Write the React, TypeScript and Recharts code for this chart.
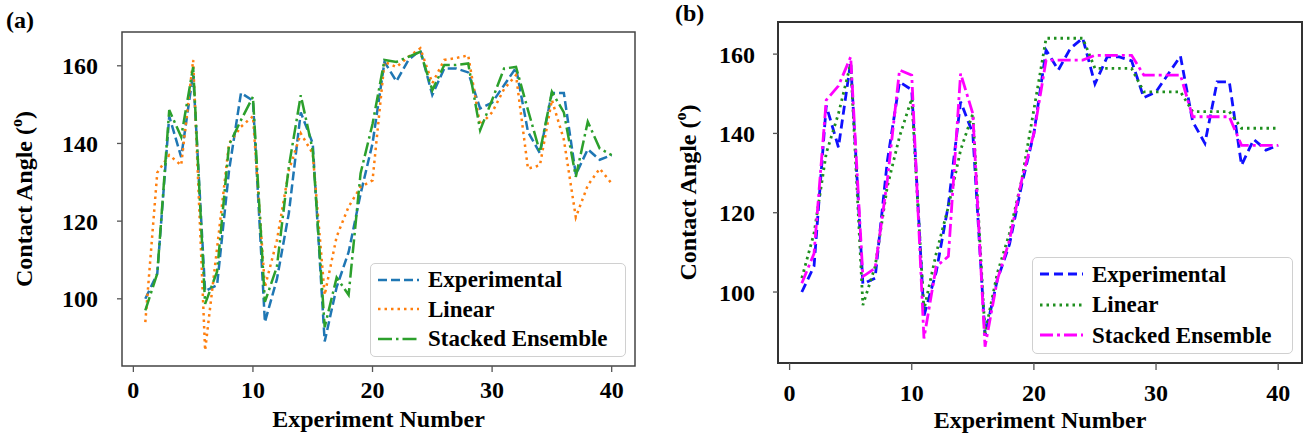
import React from 'react'
import { LineChart, Line, XAxis, YAxis, Legend, ReferenceArea } from 'recharts'

// experiment index (x axis)
const experimentNo = [
  1, 2, 3, 4, 5, 6, 7, 8, 9, 10, 11, 12, 13, 14, 15, 16, 17, 18, 19, 20,
  21, 22, 23, 24, 25, 26, 27, 28, 29, 30, 31, 32, 33, 34, 35, 36, 37, 38, 39, 40,
]

// measured contact angles, shared by both panels
const experimental = [
  100, 106.5, 147, 136.5, 158, 102, 103.5, 133, 153, 151,
  94, 105, 122, 148, 140, 89, 103, 112, 127, 140,
  161, 156, 161.5, 164, 152.5, 159.3, 159.3, 158.3, 149, 150.5,
  155, 159.5, 143, 137.5, 153, 153, 132, 138.5, 135.8, 137,
]

// panel (a) predictions
const linearA = [
  94, 132.5, 137, 134.4, 161.5, 86.7, 113, 140, 144.3, 147,
  103, 115, 133, 142.6, 137.4, 101, 116, 123.7, 128.8, 130.5,
  161, 159.7, 162.3, 164.5, 155.5, 161.5, 162, 162.7, 144.7, 148,
  154, 157.6, 133.5, 134.4, 151.2, 141, 121, 129.2, 133.5, 129.7,
]
const stackedA = [
  97, 106.5, 148.6, 141.7, 159.7, 98.7, 107, 139.6, 146, 152,
  99.2, 108.2, 134, 152.4, 138.3, 92.7, 105.5, 101, 132.3, 145,
  161.5, 161, 162.3, 163.6, 153.7, 160.2, 160.2, 160.6, 143.4, 151.2,
  159.3, 159.7, 148.6, 137.8, 153.3, 148, 131.4, 145.6, 138.7, 137,
]

// panel (b) predictions
const linearB = [
  103.5, 114.8, 135, 145, 157.6, 96.7, 106.4, 126.6, 139.2, 148.8,
  95.5, 109.7, 121.5, 135.8, 145, 89.6, 104.7, 114.8, 128.2, 146,
  164, 164, 164, 164, 156.4, 156.4, 156.4, 156.4, 150.5, 150.5,
  150.5, 150.5, 145.5, 145.5, 145.5, 145.5, 141.3, 141.3, 141.3, 141.3,
]
const stackedB = [
  102.2, 109.7, 148.4, 152, 159.3, 103.9, 106, 128.2, 156, 154.7,
  88.3, 106.4, 109, 155.1, 145, 86.2, 103, 113, 128.2, 140,
  158.5, 158.5, 158.5, 158.5, 159.7, 159.7, 159.7, 159.7, 154.7, 154.7,
  154.7, 154.7, 144.2, 144.2, 144.2, 144.2, 137, 137, 137, 137,
]

const xTicks = [0, 10, 20, 30, 40]
const yTicks = [100, 120, 140, 160]

const FONT = '"Liberation Serif", "Times New Roman", serif'

interface SeriesStyle {
  key: string
  name: string
  color: string
  dash: string
}

const seriesA: SeriesStyle[] = [
  { key: 'exp', name: 'Experimental', color: '#1f77b4', dash: '9 4' },
  { key: 'lin', name: 'Linear', color: '#ff7f0e', dash: '2.5 4' },
  { key: 'stk', name: 'Stacked Ensemble', color: '#2ca02c', dash: '14 4 2.5 4' },
]

const seriesB: SeriesStyle[] = [
  { key: 'exp', name: 'Experimental', color: '#1010ff', dash: '9 5' },
  { key: 'lin', name: 'Linear', color: '#1f8f1f', dash: '2.5 4' },
  { key: 'stk', name: 'Stacked Ensemble', color: '#ff00ff', dash: '13 4 3 4' },
]

const rowsA = experimentNo.map((x, i) => ({ x, exp: experimental[i], lin: linearA[i], stk: stackedA[i] }))
const rowsB = experimentNo.map((x, i) => ({ x, exp: experimental[i], lin: linearB[i], stk: stackedB[i] }))

function YLabel(props: any) {
  const vb = props.viewBox ?? { y: 0, height: 0 }
  const cy = vb.y + vb.height / 2
  const cx = props.cx
  return (
    <text
      x={cx}
      y={cy}
      transform={`rotate(-90 ${cx} ${cy})`}
      textAnchor="middle"
      dominantBaseline="central"
      fill="#000"
      style={{ fontFamily: FONT, fontWeight: 'bold', fontSize: 24 }}
    >
      Contact Angle (<tspan dy={-8} fontSize={16}>o</tspan>
      <tspan dy={8}>)</tspan>
    </text>
  )
}

function XLabel(props: any) {
  const vb = props.viewBox ?? { x: 0, width: 0 }
  return (
    <text
      x={vb.x + vb.width / 2}
      y={props.baseline}
      textAnchor="middle"
      fill="#000"
      style={{ fontFamily: FONT, fontWeight: 'bold', fontSize: 24 }}
    >
      Experiment Number
    </text>
  )
}

function LegendBox(props: any) {
  const { payload, series, box, rowH, sampleW, lineW } = props
  const items = (payload ?? []) as any[]
  return (
    <div
      style={{
        width: box.w,
        height: box.h,
        boxSizing: 'border-box',
        border: '1.5px solid #d0d0d0',
        borderRadius: 5,
        background: 'rgba(255,255,255,0.85)',
        padding: '1px 0 0 7px',
      }}
    >
      {items.map((it) => {
        const s = series.find((d: SeriesStyle) => d.key === it.dataKey) ?? series[0]
        return (
          <div key={s.key} style={{ display: 'flex', alignItems: 'center', height: rowH }}>
            <svg width={sampleW} height={10} style={{ display: 'block' }}>
              <line x1={0} y1={5} x2={sampleW} y2={5} stroke={s.color} strokeWidth={lineW} strokeDasharray={s.dash} />
            </svg>
            <span
              style={{
                marginLeft: 9,
                fontFamily: FONT,
                fontWeight: 'bold',
                fontSize: 23,
                lineHeight: 1,
                color: '#000',
                whiteSpace: 'nowrap',
              }}
            >
              {it.value}
            </span>
          </div>
        )
      })}
    </div>
  )
}

interface PanelProps {
  left: number
  width: number
  margin: { top: number; right: number; bottom: number; left: number }
  rows: any[]
  series: SeriesStyle[]
  yDomain: [number, number]
  frame: string
  frameW: number
  lineW: number
  xTickSize: number
  xTickMargin: number
  yTickSize: number
  yTickMargin: number
  legend: { x: number; y: number; w: number; h: number }
  rowH: number
  sampleW: number
  yLabelX: number
  xLabelY: number
  tag: string
  tagX: number
  tagY: number
}

function Panel(p: PanelProps) {
  const tickStyle = { fontFamily: FONT, fontWeight: 'bold' as const, fontSize: 24, fill: '#000' }
  const xDomain: [number, number] = [-0.95, 41.95]
  return (
    <div style={{ position: 'absolute', left: p.left, top: 0, width: p.width, height: 436 }}>
      <div
        style={{
          position: 'absolute',
          left: p.tagX,
          top: p.tagY,
          fontFamily: FONT,
          fontWeight: 'bold',
          fontSize: 24,
          lineHeight: '24px',
          color: '#000',
          zIndex: 2,
        }}
      >
        {p.tag}
      </div>
      <LineChart width={p.width} height={436} data={p.rows} margin={p.margin}>
        <XAxis
          dataKey="x"
          type="number"
          domain={xDomain}
          allowDataOverflow
          ticks={xTicks}
          height={60}
          axisLine={false}
          tickSize={p.xTickSize}
          tickMargin={p.xTickMargin}
          tickLine={{ stroke: '#555', strokeWidth: 1.3 }}
          tick={tickStyle}
          label={<XLabel baseline={p.xLabelY} />}
        />
        <YAxis
          type="number"
          domain={p.yDomain}
          allowDataOverflow
          ticks={yTicks}
          width={80}
          axisLine={false}
          tickSize={p.yTickSize}
          tickMargin={p.yTickMargin}
          tickLine={{ stroke: '#555', strokeWidth: 1.3 }}
          tick={tickStyle}
          label={<YLabel cx={p.yLabelX} />}
        />
        <ReferenceArea
          x1={xDomain[0]}
          x2={xDomain[1]}
          y1={p.yDomain[0]}
          y2={p.yDomain[1]}
          fill="none"
          fillOpacity={0}
          stroke={p.frame}
          strokeWidth={p.frameW}
          ifOverflow="visible"
        />
        {p.series.map((s) => (
          <Line
            key={s.key}
            type="linear"
            dataKey={s.key}
            name={s.name}
            stroke={s.color}
            strokeWidth={p.lineW}
            strokeDasharray={s.dash}
            dot={false}
            activeDot={false}
            isAnimationActive={false}
          />
        ))}
        <Legend
          layout="vertical"
          align="center"
          verticalAlign="middle"
          wrapperStyle={{ left: p.legend.x, top: p.legend.y, width: p.legend.w, height: p.legend.h }}
          content={(props: any) => (
            <LegendBox {...props} series={p.series} box={p.legend} rowH={p.rowH} sampleW={p.sampleW} lineW={p.lineW} />
          )}
        />
      </LineChart>
    </div>
  )
}

export default function App() {
  return (
    <div style={{ position: 'absolute', left: 0, top: 0, width: 1305, height: 436, background: '#fff' }}>
      <Panel
        left={0}
        width={645}
        margin={{ top: 32, right: 10, bottom: 10, left: 42 }}
        rows={rowsA}
        series={seriesA}
        yDomain={[82.7, 168.7]}
        frame="#444"
        frameW={1.5}
        lineW={2.5}
        xTickSize={6}
        xTickMargin={9}
        yTickSize={5}
        yTickMargin={19}
        legend={{ x: 370, y: 263, w: 256, h: 94 }}
        rowH={29.5}
        sampleW={41}
        yLabelX={24}
        xLabelY={427}
        tag="(a)"
        tagX={6}
        tagY={8}
      />
      <Panel
        left={650}
        width={655}
        margin={{ top: 22, right: 3, bottom: 13, left: 48 }}
        rows={rowsB}
        series={seriesB}
        yDomain={[82.1, 168.1]}
        frame="#333"
        frameW={2}
        lineW={2.8}
        xTickSize={7}
        xTickMargin={14}
        yTickSize={5}
        yTickMargin={18}
        legend={{ x: 382, y: 257, w: 261, h: 97 }}
        rowH={30.5}
        sampleW={43}
        yLabelX={38}
        xLabelY={428}
        tag="(b)"
        tagX={25}
        tagY={1}
      />
    </div>
  )
}
